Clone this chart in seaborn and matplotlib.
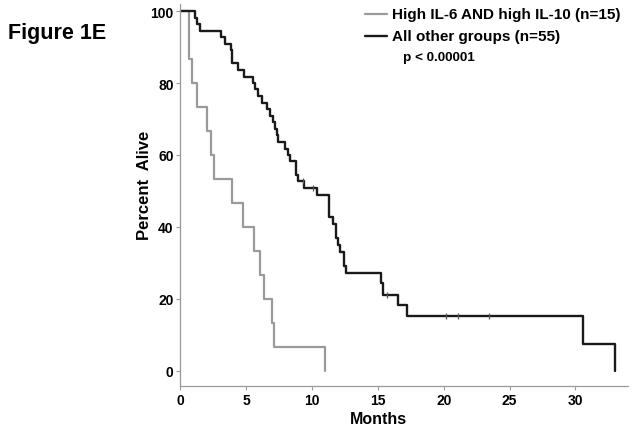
import matplotlib
matplotlib.use("Agg")
import matplotlib.pyplot as plt
from matplotlib.lines import Line2D
import seaborn as sns
import pandas as pd

# ---- data ----
grey_label = "High IL-6 AND high IL-10 (n=15)"
black_label = "All other groups (n=55)"
p_text = "p < 0.00001"

t_grey = [0, 0.65, 0.90, 1.28, 1.99, 2.29, 2.57, 3.89, 4.77, 5.58, 6.06, 6.34, 6.97, 7.12, 10.95]
s_grey = [100, 86.7, 80.0, 73.3, 66.7, 60.0, 53.3, 46.7, 40.0, 33.3, 26.7, 20.0, 13.3, 6.7, 0]

t_black = [0, 1.10, 1.28, 1.45, 3.10, 3.38, 3.80, 3.89, 4.39, 4.82, 5.53, 5.66, 5.91, 6.16,
           6.59, 6.80, 7.05, 7.18, 7.30, 7.40, 7.93, 8.19, 8.30, 8.80, 8.95, 9.40, 10.35,
           11.30, 11.55, 11.80, 11.94, 12.10, 12.40, 12.60, 15.20, 15.40, 16.50, 17.20,
           30.60, 33.00]
s_black = [100, 98.2, 96.4, 94.5, 92.7, 90.9, 89.1, 85.5, 83.6, 81.8, 80.0, 78.2, 76.4, 74.5,
           72.7, 70.9, 69.1, 67.3, 65.5, 63.6, 61.8, 60.0, 58.2, 54.5, 52.7, 50.9, 48.8,
           42.9, 40.9, 37.0, 35.1, 33.1, 29.2, 27.3, 24.3, 21.2, 18.2, 15.2,
           7.6, 0]

cens_t = [9.30, 10.05, 15.70, 20.20, 21.05, 23.45]
cens_s = [52.7, 50.9, 21.2, 15.2, 15.2, 15.2]

x_ticks = [0, 5, 10, 15, 20, 25, 30]
y_ticks = [0, 20, 40, 60, 80, 100]

# ---- styling ----
sns.set_style("ticks")
plt.rcParams['font.family'] = ['Liberation Sans', 'DejaVu Sans']
plt.rcParams['font.weight'] = 'bold'
plt.rcParams['text.color'] = 'black'
plt.rcParams['axes.labelcolor'] = 'black'
plt.rcParams['xtick.labelcolor'] = 'black'
plt.rcParams['ytick.labelcolor'] = 'black'

GREY = "#9a9a9a"
BLACK = "#1a1a1a"
SPINE = "#9a9a9a"

fig = plt.figure(figsize=(6.36, 4.27), dpi=100)
ax = fig.add_axes([0.2838, 0.0944, 0.7036, 0.8943])

df_g = pd.DataFrame({"t": t_grey, "s": s_grey})
df_b = pd.DataFrame({"t": t_black, "s": s_black})

sns.lineplot(data=df_g, x="t", y="s", ax=ax, estimator=None, sort=False,
             drawstyle="steps-post", color=GREY, linewidth=1.6)
sns.lineplot(data=df_b, x="t", y="s", ax=ax, estimator=None, sort=False,
             drawstyle="steps-post", color=BLACK, linewidth=1.7)
ax.plot(cens_t, cens_s, linestyle="none", marker="|", markersize=5,
        markeredgewidth=0.9, color="#555555")

ax.set_xlim(0, 34)
ax.set_ylim(-4.1, 102)
ax.set_xticks(x_ticks)
ax.set_yticks(y_ticks)
ax.set_xticklabels([str(v) for v in x_ticks], fontsize=10, fontweight="bold")
ax.set_yticklabels([str(v) for v in y_ticks], fontsize=10, fontweight="bold")
ax.tick_params(axis="both", direction="out", length=3, width=0.8, color=SPINE, pad=2)

for side in ["top", "right"]:
    ax.spines[side].set_visible(False)
for side in ["left", "bottom"]:
    ax.spines[side].set_color(SPINE)
    ax.spines[side].set_linewidth(0.9)

ax.set_xlabel("Months", fontsize=11.5, fontweight="bold")
ax.set_ylabel("Percent  Alive", fontsize=12, fontweight="bold")
ax.xaxis.set_label_coords(0.443, -0.065)
ax.yaxis.set_label_coords(-0.064, 0.528)

# title-like label
fig.text(8 / 636, 1 - 34 / 427, "Figure 1E", fontsize=15.5, fontweight="bold",
         ha="left", va="center")

# legend drawn manually
def yf(py):
    return 1 - py / 427

fig.add_artist(Line2D([365 / 636, 387 / 636], [yf(15), yf(15)], color=GREY, linewidth=1.6))
fig.add_artist(Line2D([365 / 636, 387 / 636], [yf(37), yf(37)], color=BLACK, linewidth=1.7))
fig.text(392 / 636, yf(15), grey_label, fontsize=11, fontweight="bold", ha="left", va="center")
fig.text(392 / 636, yf(37), black_label, fontsize=11, fontweight="bold", ha="left", va="center")
fig.text(403 / 636, yf(58), p_text, fontsize=9.7, fontweight="bold", ha="left", va="center")

fig.savefig("out.png", dpi=100)
